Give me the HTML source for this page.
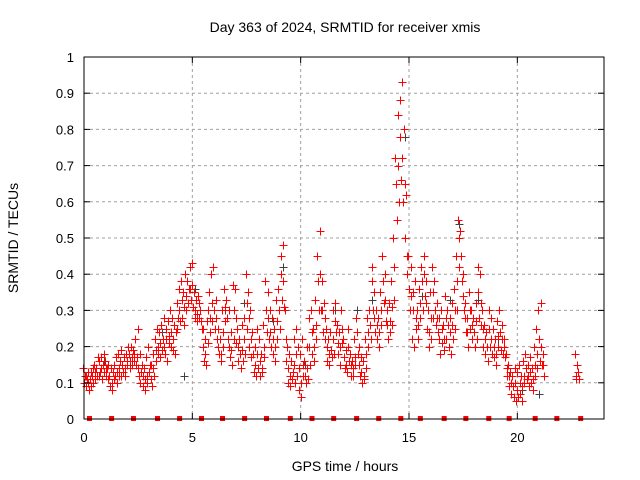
<!DOCTYPE html>
<html><head><meta charset="utf-8"><style>
body{margin:0;background:#fff}
svg{display:block;font-family:"Liberation Sans",sans-serif}
</style></head><body>
<svg id="chart" width="640" height="480" viewBox="0 0 640 480">
<rect width="640" height="480" fill="#fff"/>
<g id="grid"></g>
<g id="marks"></g>
<g id="axes"></g>
<text x="345" y="32" font-size="14" text-anchor="middle">Day 363 of 2024, SRMTID for receiver xmis</text>
<text x="345" y="471" font-size="14" text-anchor="middle">GPS time / hours</text>
<text transform="translate(18,238) rotate(-90)" font-size="14" text-anchor="middle">SRMTID / TECUs</text>
</svg>
<script>
const xTicks=[0,5,10,15,20];
const yTicks=[0,0.1,0.2,0.3,0.4,0.5,0.6,0.7,0.8,0.9,1];
const yTickLabels=["0","0.1","0.2","0.3","0.4","0.5","0.6","0.7","0.8","0.9","1"];
const markerHours=[0.23,1.25,2.26,3.37,4.39,5.4,6.37,7.39,8.4,9.5,10.5,11.5,12.56,13.58,14.6,15.5,16.6,17.6,18.66,19.6,20.8,21.8,22.9];
const greySamples=[[0.1,.12],[0.9,.16],[2.3,.17],[3.6,.24],[4.6,.12],[5.1,.36],[6.5,.30],[7.4,.32],[8.7,.27],[9.2,.42],[10.2,.15],[10.9,.40],[11.6,.30],[12.6,.30],[13.3,.33],[14.5,.70],[14.8,.78],[15.6,.34],[16.9,.33],[17.3,.54],[18.2,.33],[19.1,.22],[20.2,.08],[21.0,.07]];
const samples=[
[0.0,.14,.10,.12],[0.1,.12,.09,.11],[0.2,.13,.10,.08],[0.3,.11,.09,.13],[0.4,.12,.10,.14],[0.5,.15,.11,.13],[0.6,.14,.12,.17],[0.7,.16,.12,.13],[0.8,.17,.14,.11],[0.9,.15,.13,.18],
[1.0,.16,.12,.14],[1.1,.14,.11,.15],[1.2,.12,.09,.14],[1.3,.10,.08,.13],[1.4,.15,.11,.12],[1.5,.17,.13,.10],[1.6,.18,.14,.12],[1.7,.16,.12,.19],[1.8,.15,.13,.17],[1.9,.14,.12,.18],
[2.0,.16,.15,.20],[2.1,.18,.16,.14],[2.2,.20,.17,.15],[2.3,.19,.16,.18],[2.4,.22,.15,.17],[2.5,.25,.14,.12],[2.6,.18,.10,.13],[2.7,.15,.09,.12],[2.8,.14,.08,.11],[2.9,.17,.12,.10],
[3.0,.20,.13,.15],[3.1,.15,.11,.09],[3.2,.18,.14,.12],[3.3,.22,.16,.19],[3.4,.25,.18,.20],[3.5,.24,.17,.21],[3.6,.26,.19,.22],[3.7,.28,.20,.18],[3.8,.25,.22,.16],[3.9,.27,.21,.23],
[4.0,.30,.24,.20],[4.1,.28,.22,.19],[4.2,.26,.18,.24],[4.3,.32,.25,.28],[4.4,.36,.30,.27],[4.5,.38,.33,.28],[4.6,.35,.31,.26],[4.7,.40,.34,.30],[4.8,.38,.32,.36],[4.9,.42,.36,.33],
[5.0,.43,.37,.31],[5.1,.35,.30,.28],[5.2,.33,.29,.27],[5.3,.34,.32,.28],[5.4,.30,.27,.25],[5.5,.25,.20,.16],[5.6,.22,.18,.15],[5.7,.27,.21,.30],[5.8,.35,.28,.24],[5.9,.40,.32,.27],
[6.0,.42,.30,.25],[6.1,.33,.28,.22],[6.2,.25,.20,.18],[6.3,.22,.18,.16],[6.4,.30,.24,.20],[6.5,.36,.31,.27],[6.6,.33,.28,.22],[6.7,.30,.20,.17],[6.8,.24,.19,.15],[6.9,.37,.30,.22],
[7.0,.36,.28,.21],[7.1,.25,.20,.16],[7.2,.22,.18,.14],[7.3,.26,.19,.16],[7.4,.28,.22,.18],[7.5,.40,.32,.25],[7.6,.35,.28,.20],[7.7,.30,.22,.17],[7.8,.24,.18,.13],[7.9,.20,.15,.12],
[8.0,.25,.18,.14],[8.1,.22,.16,.12],[8.2,.18,.14,.13],[8.3,.26,.20,.17],[8.4,.38,.30,.24],[8.5,.35,.28,.22],[8.6,.30,.24,.20],[8.7,.28,.22,.18],[8.8,.25,.20,.16],[8.9,.33,.27,.22],
[9.0,.36,.30,.25],[9.1,.45,.40,.33],[9.2,.48,.38,.31],[9.3,.30,.22,.16],[9.4,.20,.14,.10],[9.5,.18,.12,.09],[9.6,.16,.11,.13],[9.7,.22,.15,.10],[9.8,.25,.18,.12],[9.9,.20,.14,.08],
[10.0,.18,.10,.06],[10.1,.22,.15,.12],[10.2,.16,.12,.10],[10.3,.20,.14,.11],[10.4,.28,.20,.15],[10.5,.30,.24,.18],[10.6,.25,.20,.16],[10.7,.33,.26,.22],[10.8,.45,.38,.30],[10.9,.52,.40,.30],
[11.0,.38,.30,.24],[11.1,.32,.28,.22],[11.2,.25,.20,.16],[11.3,.22,.18,.15],[11.4,.24,.19,.17],[11.5,.30,.22,.18],[11.6,.32,.27,.24],[11.7,.26,.21,.18],[11.8,.24,.20,.15],[11.9,.30,.25,.21],
[12.0,.22,.17,.14],[12.1,.19,.15,.13],[12.2,.25,.20,.16],[12.3,.18,.15,.12],[12.4,.16,.14,.12],[12.5,.22,.17,.15],[12.6,.28,.24,.18],[12.7,.20,.15,.12],[12.8,.17,.13,.10],[12.9,.16,.12,.11],
[13.0,.22,.18,.14],[13.1,.28,.24,.20],[13.2,.30,.26,.22],[13.3,.42,.38,.30],[13.4,.35,.28,.24],[13.5,.30,.26,.22],[13.6,.28,.24,.20],[13.7,.35,.30,.26],[13.8,.45,.38,.32],[13.9,.40,.33,.27],
[14.0,.30,.26,.22],[14.1,.32,.27,.24],[14.2,.38,.31,.26],[14.3,.50,.42,.33],[14.4,.72,.65,.55],[14.5,.84,.70,.60],[14.6,.88,.78,.66],[14.7,.93,.72,.60],[14.8,.80,.65,.50],[14.9,.62,.45,.40],
[15.0,.45,.36,.30],[15.1,.42,.34,.22],[15.2,.35,.30,.20],[15.3,.38,.28,.25],[15.4,.30,.26,.22],[15.5,.36,.32,.28],[15.6,.42,.38,.30],[15.7,.45,.40,.34],[15.8,.38,.32,.25],[15.9,.30,.24,.20],
[16.0,.35,.28,.22],[16.1,.42,.35,.28],[16.2,.38,.30,.26],[16.3,.32,.28,.24],[16.4,.28,.22,.18],[16.5,.30,.25,.21],[16.6,.26,.22,.19],[16.7,.34,.28,.22],[16.8,.30,.26,.20],[16.9,.28,.24,.18],
[17.0,.32,.26,.22],[17.1,.36,.30,.25],[17.2,.45,.38,.30],[17.3,.55,.50,.42],[17.4,.52,.45,.38],[17.5,.40,.34,.30],[17.6,.32,.28,.24],[17.7,.28,.24,.20],[17.8,.35,.30,.25],[17.9,.30,.26,.22],
[18.0,.28,.24,.20],[18.1,.32,.27,.22],[18.2,.42,.35,.28],[18.3,.40,.32,.26],[18.4,.30,.25,.20],[18.5,.26,.22,.18],[18.6,.24,.20,.16],[18.7,.30,.25,.20],[18.8,.28,.22,.18],[18.9,.25,.20,.17],
[19.0,.22,.18,.15],[19.1,.27,.23,.20],[19.2,.30,.24,.19],[19.3,.26,.22,.18],[19.4,.22,.20,.17],[19.5,.18,.14,.12],[19.6,.15,.12,.09],[19.7,.13,.10,.07],[19.8,.12,.09,.06],[19.9,.14,.10,.05],
[20.0,.13,.08,.06],[20.1,.15,.10,.07],[20.2,.12,.09,.05],[20.3,.16,.12,.10],[20.4,.18,.14,.11],[20.5,.15,.12,.09],[20.6,.17,.13,.10],[20.7,.14,.11,.08],[20.8,.20,.15,.12],[20.9,.25,.18,.14],
[21.0,.30,.22,.16],[21.1,.32,.20,.15],[21.2,.18,.15,.12],[22.7,.18,.12,.11],[22.8,.15,.13,.11]];

const L=84,R=604,T=57,B=419,XMAX=24;
const sx=t=>L+(t/XMAX)*(R-L);
const sy=v=>B-v*(B-T);
const NS="http://www.w3.org/2000/svg";
function mk(tag,attrs,parent){const e=document.createElementNS(NS,tag);for(const k in attrs)e.setAttribute(k,attrs[k]);parent.appendChild(e);return e;}
const grid=document.getElementById('grid'),axes=document.getElementById('axes'),marks=document.getElementById('marks');

xTicks.forEach(t=>{
  const x=sx(t);
  if(t>0){const g=mk('line',{x1:x,y1:T,x2:x,y2:B,stroke:'#a0a0a0','stroke-dasharray':'3,3'},grid);
  
  }
  mk('line',{x1:x,y1:B,x2:x,y2:B-6,stroke:'#000'},axes);
  mk('line',{x1:x,y1:T,x2:x,y2:T+6,stroke:'#000'},axes);
  const lb=mk('text',{x:x,y:B+23,'font-size':13,'text-anchor':'middle'},axes);
  lb.textContent=t;
  
  
});
yTicks.forEach((v,i)=>{
  const y=sy(v);
  if(v>0&&v<1){const g=mk('line',{x1:L,y1:y,x2:R,y2:y,stroke:'#a0a0a0','stroke-dasharray':'3,3'},grid);
  
  }
  mk('line',{x1:L,y1:y,x2:L+6,y2:y,stroke:'#000'},axes);
  mk('line',{x1:R,y1:y,x2:R-6,y2:y,stroke:'#000'},axes);
  const lb=mk('text',{x:L-10,y:y+5,'font-size':13,'text-anchor':'end'},axes);
  lb.textContent=yTickLabels[i];
  
  
});
const frame=mk('rect',{x:L,y:T,width:R-L,height:B-T,fill:'none',stroke:'#000'},axes);



function plus(t,v,color){
  const x=Math.round(sx(t))+0.5,y=Math.round(sy(v))+0.5;
  const p=mk('path',{d:`M${x-4} ${y}h8M${x} ${y-4}v8`,stroke:color,'stroke-width':1,fill:'none'},marks);
  return p;
}
greySamples.forEach(s=>{
  const p=plus(s[0],s[1],'#404040');
  
  
});
samples.forEach(s=>{
  for(let k=1;k<s.length;k++){
    const p=plus(s[0]+(k-2)*0.03,s[k],'#ff0000');
    
    
  }
});
markerHours.forEach(t=>{
  const r=mk('rect',{x:sx(t)-2,y:B-3,width:5,height:5,fill:'#ff0000'},marks);
  
  
});
</script>
</body></html>
